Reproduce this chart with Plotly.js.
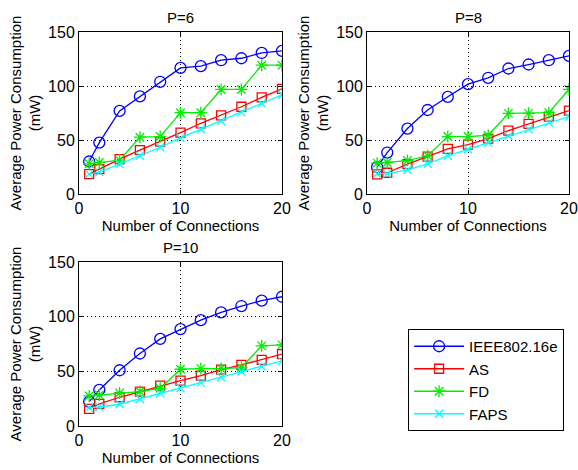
<!DOCTYPE html>
<html><head><meta charset="utf-8">
<script src="https://cdn.plot.ly/plotly-3.0.1.min.js"></script>
<style>html,body{margin:0;padding:0;background:#fff}#c{width:578px;height:470px}</style>
</head><body><div id="c"></div>
<script>
const connections = [1,2,4,6,8,10,12,14,16,18,20];
const seriesNames = ['IEEE802.16e','AS','FD','FAPS'];
const panelTitles = ['P=6','P=8','P=10'];

const p6_ieee = [30.1,47.6,77,90.4,103.9,116.8,118.4,123.9,125.7,130.6,132.5];
const p6_as   = [18.4,23,32.3,40.6,48.6,56.9,65.5,72.9,80.8,89.5,97.4];
const p6_fd   = [28,29.2,31.4,52.6,53.2,75.3,75.3,96.8,96.8,119.3,119.3];
const p6_faps = [18.4,20.3,27.7,35.4,43.3,52,60,67.6,75.6,83.9,91.9];

const p8_ieee = [24.9,38.4,60.6,77.8,90,101.7,107.6,116.2,119.9,123.9,127.9];
const p8_as   = [18.1,19.7,27.7,34.7,41.8,45.8,51.3,58.7,64.9,71.6,77.2];
const p8_fd   = [28.6,29.2,31,35.4,53.2,53.2,54.4,74.7,74.7,75.3,96.8];
const p8_faps = [18.8,18.8,22.4,28,35.4,41.5,47.6,53.8,60,66.1,71.6];

const p10_ieee = [22.3,33,51,66.3,79.7,88.6,96.8,103.9,109.7,114.6,118.2];
const p10_as   = [15.6,20.2,26.3,31.5,37,41.5,46.1,51.6,55.9,60.5,65.7];
const p10_fd   = [27.5,28.4,30.2,31.5,34.5,51.9,52.5,52.5,53.5,73.3,74.2];
const p10_faps = [16.8,17.4,19.9,24.7,29.9,34.8,39.7,44.6,49.8,54.4,59.6];

const panels = [
  [p6_ieee,p6_as,p6_fd,p6_faps],
  [p8_ieee,p8_as,p8_fd,p8_faps],
  [p10_ieee,p10_as,p10_fd,p10_faps]
];
const colors = ['#0000ff','#ff0000','#00ee00','#00ffff'];
const symbols = ['circle-open','square-open','asterisk-open','x-thin-open'];
const msizes = [11,9,10,8];

const traces = [];
panels.forEach((pan,pi)=>{
  const sfx = pi===0?'':String(pi+1);
  pan.forEach((ys,si)=>{
    traces.push({
      x: connections, y: ys, type:'scatter', mode:'lines+markers',
      name: seriesNames[si], showlegend: pi===0,
      xaxis:'x'+sfx, yaxis:'y'+sfx,
      line:{color:colors[si], width:1.3},
      marker:{symbol:symbols[si], size:msizes[si], color:colors[si], line:{color:colors[si], width:1.3}}
    });
  });
});

const F = 'Liberation Sans, Arial, sans-serif';
function xax(dom, anchor){
  return {domain:dom, anchor:anchor, range:[0,20], tickvals:[0,10,20], ticks:'inside', ticklen:4,
    tickcolor:'#000', showline:true, linecolor:'#000', linewidth:1, mirror:'ticks',
    showgrid:true, gridcolor:'#000', griddash:'1px,3px', gridwidth:1, zeroline:false,
    tickfont:{family:F,size:16,color:'#000'},
    title:{text:'Number of Connections', font:{family:F,size:15,color:'#000'}, standoff:1}};
}
function yax(dom, anchor){
  return {domain:dom, anchor:anchor, range:[0,150], tickvals:[0,50,100,150], ticks:'inside', ticklen:4,
    tickcolor:'#000', showline:true, linecolor:'#000', linewidth:1, mirror:'ticks',
    showgrid:true, gridcolor:'#000', griddash:'1px,3px', gridwidth:1, zeroline:false,
    tickfont:{family:F,size:16,color:'#000'},
    title:{text:'Average Power Consumption<br>(mW)', font:{family:F,size:15,color:'#000'}, standoff:3}};
}
const layout = {
  width:578, height:470, margin:{l:0,r:0,t:0,b:0}, paper_bgcolor:'#fff', plot_bgcolor:'#fff',
  font:{family:F, color:'#000'},
  xaxis: xax([0.1367,0.4879],'y'), yaxis: yax([0.5872,0.9319],'x'),
  xaxis2: xax([0.635,0.9844],'y2'), yaxis2: yax([0.5872,0.9319],'x2'),
  xaxis3: xax([0.1367,0.4879],'y3'), yaxis3: yax([0.0936,0.4426],'x3'),
  showlegend:true,
  legend:{x:0.706, y:0.30, xanchor:'left', yanchor:'top', bordercolor:'#000', borderwidth:1,
    bgcolor:'#fff', font:{family:F,size:15,color:'#000'}, tracegroupgap:0, itemwidth:50},
  annotations: panelTitles.map((t,i)=>({
    text:t, showarrow:false, xref:(i===1?'x2':i===2?'x3':'x')+' domain', yref:(i===1?'y2':i===2?'y3':'y')+' domain',
    x:0.5, y:1, yanchor:'bottom', yshift:4, font:{family:F,size:15,color:'#000'}
  }))
};
Plotly.newPlot('c', traces, layout, {staticPlot:true});
</script></body></html>
